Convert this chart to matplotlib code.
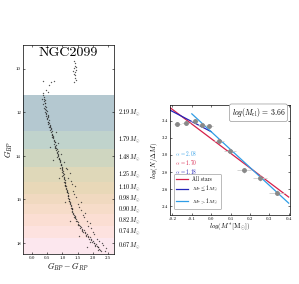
import matplotlib
matplotlib.use("Agg")
import matplotlib.pyplot as plt
from matplotlib.transforms import blended_transform_factory

plt.rcParams['font.family'] = 'serif'
plt.rcParams['font.serif'] = ['cmr10']
plt.rcParams['mathtext.fontset'] = 'cm'
plt.rcParams['axes.unicode_minus'] = False
plt.rcParams['axes.linewidth'] = 0.5

# --- CMD data (colour, magnitude) ---
cmd_color = [0.37, 0.55, 0.62, 0.72, 0.45, 0.35, 0.51,
             1.38, 1.40, 1.42, 1.39, 1.44, 1.41, 1.37, 1.43, 1.40, 1.45, 1.38, 1.46, 1.36,
             0.36, 0.40, 0.34, 0.42, 0.38, 0.44, 0.37,
             0.41, 0.46, 0.40, 0.45, 0.49, 0.43, 0.47, 0.51, 0.46, 0.52,
             0.50, 0.55, 0.52, 0.57, 0.54, 0.60, 0.56, 0.62, 0.59, 0.64,
             0.62, 0.67, 0.65, 0.70, 0.68, 0.73, 0.71, 0.75, 0.73, 0.78,
             0.77, 0.80, 0.79, 0.84, 0.82, 0.87, 0.85, 0.89, 0.88, 0.93,
             0.91, 0.95, 0.94, 0.98, 0.97, 1.00, 0.99, 1.03, 1.02, 1.05,
             1.04, 1.07, 1.06, 1.09, 1.08, 1.12, 1.11, 1.15, 1.14, 1.18, 1.17,
             1.20, 1.19, 1.23, 1.22, 1.26, 1.25, 1.29, 1.28, 1.32, 1.31,
             1.36, 1.34, 1.41, 1.39, 1.46, 1.44, 1.52, 1.50, 1.57,
             1.60, 1.66, 1.70, 1.76, 1.80, 1.86, 1.90, 1.95, 2.00, 2.05, 2.10, 2.14, 2.19, 2.24, 2.28,
             1.05, 1.15, 1.20, 1.30, 1.35, 1.45, 1.50, 1.62, 1.70, 1.80, 1.95, 2.05, 2.20, 2.35, 2.40,
             1.60, 1.75, 1.90, 1.40, 1.25, 0.95, 0.85, 0.78,
             0.60, 0.90, 1.10, 1.25, 1.55, 1.80, 0.70,
             # second pass along the ridge
             0.39, 0.43, 0.47, 0.50, 0.53, 0.58, 0.61, 0.66, 0.69, 0.74,
             0.76, 0.81, 0.83, 0.86, 0.90, 0.92, 0.96, 0.99, 1.01, 1.04,
             1.06, 1.08, 1.10, 1.13, 1.16, 1.19, 1.21, 1.24, 1.27, 1.30,
             1.33, 1.37, 1.42, 1.48, 1.54, 1.59, 1.64, 1.69, 1.74, 1.79,
             1.84, 1.89, 1.94, 1.99, 2.04, 2.09, 2.16, 2.22,
             0.44, 0.51, 0.58, 0.66, 0.74, 0.83, 0.92, 1.00, 1.08, 1.15,
             1.22, 1.30, 1.40, 1.52, 1.65, 1.78, 1.92, 2.06, 2.18,
             1.12, 1.28, 1.38, 1.55, 1.68, 1.85, 2.00, 2.15, 2.30, 2.45]
cmd_mag = [10.55, 10.75, 10.60, 10.55, 10.95, 11.10, 11.05,
           9.65, 9.75, 9.85, 9.95, 10.05, 10.15, 10.25, 10.30, 10.40, 10.50, 10.60, 9.90, 10.10,
           11.22, 11.30, 11.38, 11.45, 11.50, 11.58, 11.62,
           11.70, 11.75, 11.82, 11.90, 11.95, 12.00, 12.05, 12.10, 12.18, 12.22,
           12.30, 12.35, 12.42, 12.50, 12.55, 12.60, 12.68, 12.72, 12.80, 12.85,
           12.92, 12.98, 13.05, 13.10, 13.18, 13.25, 13.30, 13.38, 13.45, 13.50,
           13.58, 13.65, 13.72, 13.78, 13.85, 13.92, 14.00, 14.08, 14.15, 14.20,
           14.28, 14.35, 14.42, 14.50, 14.58, 14.65, 14.72, 14.80, 14.88, 14.95,
           15.02, 15.10, 15.18, 15.25, 15.32, 15.40, 15.48, 15.55, 15.62, 15.70, 15.78,
           15.85, 15.92, 16.00, 16.08, 16.15, 16.22, 16.30, 16.38, 16.45, 16.52,
           16.60, 16.68, 16.75, 16.82, 16.90, 16.98, 17.05, 17.12, 17.20,
           17.28, 17.35, 17.42, 17.50, 17.58, 17.66, 17.74, 17.82, 17.90, 17.98, 18.05, 18.12, 18.20, 18.30, 18.38,
           14.30, 14.60, 15.00, 15.30, 15.60, 15.90, 16.20, 16.50, 16.80, 17.00, 17.30, 17.60, 17.90, 18.10, 18.35,
           16.10, 16.60, 17.10, 15.40, 14.80, 13.90, 13.40, 12.90,
           13.60, 15.00, 16.10, 17.00, 17.70, 18.20, 14.20,
           11.40, 11.85, 12.08, 12.26, 12.46, 12.64, 12.78, 13.02, 13.14, 13.34,
           13.55, 13.68, 13.82, 13.96, 14.12, 14.25, 14.40, 14.55, 14.70, 14.85,
           15.05, 15.22, 15.36, 15.52, 15.66, 15.82, 15.96, 16.12, 16.26, 16.42,
           16.56, 16.72, 16.86, 17.01, 17.16, 17.30, 17.40, 17.48, 17.56, 17.64,
           17.72, 17.80, 17.88, 17.95, 18.02, 18.10, 18.18, 18.26,
           11.55, 12.15, 12.65, 13.15, 13.65, 14.05, 14.55, 14.90, 15.35, 15.65,
           16.05, 16.40, 16.80, 17.15, 17.45, 17.70, 17.95, 18.15, 18.32,
           14.55, 15.15, 15.75, 16.35, 16.70, 17.20, 17.50, 17.80, 18.00, 18.25]

# mass bins: magnitude edges and labels
band_edges = [11.21, 12.86, 13.69, 14.52, 15.21, 15.76, 16.22, 16.68, 17.23, 17.78, 18.5]
band_masses = ["2.19", "1.79", "1.48", "1.25", "1.10", "0.98", "0.90", "0.82", "0.74", "0.67"]
band_colors = ["#b4c8d0", "#c0d3cc", "#cfd6c0", "#dfd8b9", "#e8d8b8",
               "#f0d9c0", "#f6dcc9", "#fbded3", "#fde2df", "#fce7ee"]

# mass function points
logm = [-0.174, -0.131, -0.086, -0.046, -0.009, 0.041, 0.097, 0.170, 0.253, 0.340]
logn = [3.36, 3.37, 3.39, 3.35, 3.34, 3.156, 3.05, 2.82, 2.73, 2.56]
logm_err = [0.02, 0.02, 0.02, 0.02, 0.02, 0.025, 0.03, 0.035, 0.035, 0.04]
logn_err = [0.02, 0.02, 0.02, 0.02, 0.02, 0.02, 0.03, 0.03, 0.03, 0.03]

# fits: (intercept, alpha, x range)
fit_all = (3.189, 1.70, [-0.212, 0.40])
fit_low = (3.27, 1.18, [-0.212, 0.0])
fit_high = (3.27, 2.08, [-0.10, 0.40])

fig = plt.figure(figsize=(2.99, 2.84), dpi=100)

# ---------------- left: CMD ----------------
ax1 = fig.add_axes([0.077, 0.106, 0.304, 0.736])
for i in range(len(band_masses)):
    ax1.axhspan(band_edges[i], band_edges[i + 1], color=band_colors[i], lw=0, zorder=0)
ax1.scatter(cmd_color, cmd_mag, s=1.0, c='#222222', alpha=0.75, lw=0, zorder=2)
ax1.set_xlim(-0.3, 2.7)
ax1.set_ylim(18.5, 8.9)
ax1.set_xticks([0.0, 0.5, 1.0, 1.5, 2.0, 2.5])
ax1.set_yticks([10, 12, 14, 16, 18])
ax1.tick_params(direction='in', top=True, right=True, labelsize=3.5, length=1.5, width=0.4, pad=1.5)
ax1.set_xlabel(r"$G_{BP}-G_{RP}$", fontsize=6, labelpad=0.5)
ax1.set_ylabel(r"$G_{BP}$", fontsize=6, labelpad=1)
ax1.text(0.5, 0.96, "NGC2099", transform=ax1.transAxes, ha='center', va='center', fontsize=10)
trans = blended_transform_factory(ax1.transAxes, ax1.transData)
for i, m in enumerate(band_masses):
    yc = 0.5 * (band_edges[i] + band_edges[i + 1])
    ax1.text(1.05, yc, m + r"$M_{\odot}$", transform=trans, va='center', ha='left', fontsize=4.5)

# ---------------- right: mass function ----------------
ax2 = fig.add_axes([0.569, 0.243, 0.401, 0.387])
ax2.errorbar(logm, logn, xerr=logm_err, yerr=logn_err, fmt='o', color='#888888',
             ecolor='#cccccc', ms=2.5, elinewidth=0.6, capsize=0, zorder=3)
for (b, a, xr), col, lab in [(fit_all, '#d6204a', 'All stars'),
                              (fit_low, '#2424b8', r'$M_{*}\leq 1\,M_{\odot}$'),
                              (fit_high, '#2f9de6', r'$M_{*}>1\,M_{\odot}$')]:
    ax2.plot(xr, [b - a * xr[0], b - a * xr[1]], color=col, lw=0.9, label=lab, zorder=2)
ax2.set_xlim(-0.212, 0.407)
ax2.set_ylim(2.3, 3.58)
ax2.set_xticks([-0.2, -0.1, 0.0, 0.1, 0.2, 0.3, 0.4])
ax2.set_yticks([2.4, 2.6, 2.8, 3.0, 3.2, 3.4])
ax2.tick_params(direction='in', top=True, right=True, labelsize=3.5, length=1.5, width=0.4, pad=1.5)
ax2.set_xlabel(r"$log(M^{*}\,[\mathrm{M}_{\odot}])$", fontsize=5, labelpad=0.5)
ax2.set_ylabel(r"$log(N/\Delta M)$", fontsize=5, labelpad=1)
for yy, s, col in [(0.555, "2.08", '#2f9de6'), (0.475, "1.70", '#d6204a'), (0.395, "1.18", '#2424b8')]:
    ax2.text(0.04, yy, r"$\alpha$ = " + s, transform=ax2.transAxes, color=col,
             fontsize=3.8, fontweight='bold', va='center')
ax2.text(0.96, 0.93, r"$log(M_{\rm cl})$ = 3.66", transform=ax2.transAxes, ha='right', va='center',
         fontsize=5.5, bbox=dict(boxstyle='round,pad=0.3', fc='white', ec='#999999', lw=0.5))
leg = ax2.legend(loc='lower left', fontsize=3.8, handlelength=2.2, frameon=True,
                 borderpad=0.45, labelspacing=0.4, bbox_to_anchor=(0.01, 0.03))
leg.get_frame().set_linewidth(0.5)
leg.get_frame().set_edgecolor('#888888')

fig.savefig("out.png", dpi=100)
